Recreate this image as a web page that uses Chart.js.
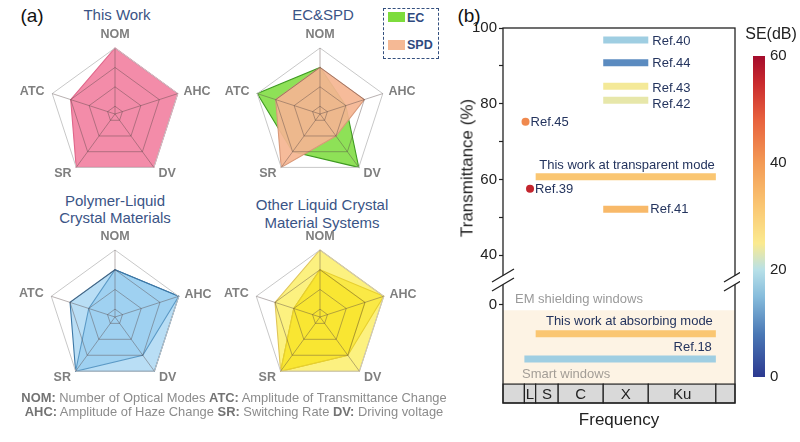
<!DOCTYPE html>
<html>
<head>
<meta charset="utf-8">
<title>Radar comparison and SE map</title>
<script src="https://cdn.jsdelivr.net/npm/chart.js@4.4.1/dist/chart.umd.min.js"></script>
<style>
  html, body { margin: 0; padding: 0; background: #fff; }
  body { position: relative; width: 800px; height: 442px; overflow: hidden;
         font-family: "Liberation Sans", Arial, Helvetica, sans-serif; }
  canvas { position: absolute; }
  .t { position: absolute; white-space: nowrap; line-height: 1; transform: translate(-50%, -50%); }
  .tag { font-size: 19px; color: #111; }
  .title { font-size: 15px; color: #3a5486; }
  .foot { font-size: 12.9px; color: #8c8c8c; }
  .foot b { color: #737373; }
  .axis { font-size: 17px; color: #222; }
  .rot { transform: translate(-50%, -50%) rotate(-90deg); }
  #legendBox { position: absolute; left: 383px; top: 8px; width: 56px; height: 51px;
               box-sizing: border-box; border: 1.5px dashed #34507f; }
  .sw { position: absolute; left: 4px; width: 17px; height: 10px; }
  .lg { position: absolute; left: 23px; font-size: 12.5px; font-weight: bold; color: #2f4a80; line-height: 1; }
</style>
</head>
<body>

<div class="t tag" style="left:32px; top:15px;">(a)</div>
<div class="t tag" style="left:469px; top:15px;">(b)</div>

<div class="t title" style="left:117px; top:14px;">This Work</div>
<div class="t title" style="left:323px; top:14px;">EC&amp;SPD</div>
<div class="t title" style="left:115px; top:200px;">Polymer-Liquid</div>
<div class="t title" style="left:115px; top:217px;">Crystal Materials</div>
<div class="t title" style="left:322px; top:204px;">Other Liquid Crystal</div>
<div class="t title" style="left:322px; top:222px;">Material Systems</div>

<div id="legendBox">
  <div class="sw" style="top:3px; background:#7ddc3c;"></div>
  <div class="lg" style="top:3px;">EC</div>
  <div class="sw" style="top:31px; background:#f5b995;"></div>
  <div class="lg" style="top:30px;">SPD</div>
</div>

<canvas id="rThis" width="200" height="175" style="left:15px; top:24px;"></canvas>
<canvas id="rEc" width="200" height="175" style="left:220px; top:24px;"></canvas>
<canvas id="rPlc" width="200" height="175" style="left:15px; top:227px;"></canvas>
<canvas id="rLc" width="200" height="175" style="left:220px; top:227px;"></canvas>

<div class="t foot" style="left:234px; top:398px;"><b>NOM:</b> Number of Optical Modes <b>ATC:</b> Amplitude of Transmittance Change</div>
<div class="t foot" style="left:234px; top:412px;"><b>AHC:</b> Amplitude of Haze Change <b>SR:</b> Switching Rate <b>DV:</b> Driving voltage</div>

<canvas id="seMap" width="300" height="442" style="left:440px; top:0px;"></canvas>
<canvas id="seBar" width="55" height="350" style="left:745px; top:40px;"></canvas>

<div class="t axis rot" style="left:467px; top:168px;">Transmittance (%)</div>
<div class="t axis" style="left:619px; top:419px;">Frequency</div>
<div class="t" style="left:771px; top:34px; font-size:16px; color:#222;">SE(dB)</div>

<script>
// ---- panel (a): radar scores, order NOM, AHC, DV, SR, ATC ----
const axesNames = ['NOM', 'AHC', 'DV', 'SR', 'ATC'];
const ringLevels = [2, 3, 4, 5];
const thisWork = [5, 5, 5, 5, 4];
const ecScore = [4, 3, 5, 4, 5];
const spdScore = [4, 4, 3, 5, 4];
const plcHigh = [4, 5, 5, 5, 4];
const plcLow = [4, 5, 4, 5, 3];
const lcOuter = [5, 5, 5, 5, 4];
const lcMid = [4, 5, 4, 5, 3];
const lcInner = [4, 4, 4, 5, 3];

// ---- panel (b): transmittance vs frequency band ----
const bandNames = ['', 'L', 'S', 'C', 'X', 'Ku', ''];
const bandEdges = [-0.9, 1, 2, 4, 8, 12, 18, 19.7];   // GHz
const yTicks = [0, 40, 50, 60, 70, 80, 90, 100];
const yTickText = ['0', '40', '', '60', '', '80', '', '100'];
const refNames = ['Ref.40', 'Ref.44', 'Ref.43', 'Ref.42', 'This work at transparent mode',
                  'Ref.41', 'This work at absorbing mode', 'Ref.18'];
const refFrom = [8, 8, 8, 8, 2, 8, 2, 1];
const refTo = [12, 12, 12, 12, 18, 12, 18, 18];
const refT = [96.8, 90.8, 84.6, 80.9, 60.7, 52.1, -7.7, -14.4];
const refSE = [17.5, 10, 24.5, 23.5, 32, 34.4, 32, 17.5];
const dotNames = ['Ref.45', 'Ref.39'];
const dotFreq = [1.1, 1.5];
const dotT = [75.2, 57.5];
const dotSE = [42.4, 55.8];
const seTicks = [0, 20, 40, 60];

// axis break: values below 40 are shifted up so 0 sits just under the break
const BREAK_ZERO = 26.9;
const toAxis = t => (t >= 40 ? t : BREAK_ZERO + t);
const zoneTop = -1.5, bandTop = -21, axisBottom = -26;

// colour map for SE (dB)
const seStops = [0, 8, 15, 20, 25, 32, 40, 48, 55, 60];
const seHex = ['#2c3990', '#4a78b5', '#86bcdc', '#b7e0e8', '#fbea8f',
               '#fac672', '#f39a55', '#e8623e', '#c92a2e', '#a40c2c'];

function hexRgb(h) {
  return [1, 3, 5].map(i => parseInt(h.slice(i, i + 2), 16));
}
function seColor(v) {
  let i = 0;
  while (i < seStops.length - 2 && v > seStops[i + 1]) i++;
  const t = (v - seStops[i]) / (seStops[i + 1] - seStops[i]);
  const a = hexRgb(seHex[i]), b = hexRgb(seHex[i + 1]);
  const c = a.map((x, k) => Math.round(x + (b[k] - x) * t));
  return `rgb(${c[0]},${c[1]},${c[2]})`;
}

Chart.defaults.font.family = '"Liberation Sans", Arial, sans-serif';

// ---------- radar charts ----------
const labelGap = [13, 6, 8, 8, 8];
const labelAlign = ['center', 'left', 'left', 'right', 'right'];

const axisLabels = {
  id: 'axisLabels',
  afterDraw(chart) {
    const s = chart.scales.r, ctx = chart.ctx;
    ctx.save();
    ctx.font = 'bold 12.5px "Liberation Sans", Arial, sans-serif';
    ctx.fillStyle = '#7f7f7f';
    ctx.textBaseline = 'middle';
    axesNames.forEach((name, i) => {
      const p = s.getPointPosition(i, s.drawingArea + labelGap[i]);
      ctx.textAlign = labelAlign[i];
      ctx.fillText(name, p.x, p.y);
    });
    ctx.restore();
  }
};

function radar(id, R, sets) {
  new Chart(document.getElementById(id), {
    type: 'radar',
    data: {
      labels: axesNames,
      datasets: sets.map(s => ({
        data: s.data,
        backgroundColor: s.fill,
        borderColor: s.line,
        borderWidth: 1.1,
        order: s.order || 0
      }))
    },
    options: {
      responsive: false,
      animation: false,
      layout: { padding: { left: 100 - R, right: 100 - R, top: 90 - R, bottom: 85 - R } },
      plugins: { legend: { display: false }, tooltip: { enabled: false } },
      elements: { point: { radius: 0 }, line: { tension: 0 } },
      scales: {
        r: {
          min: 1.6,
          max: 5,
          afterBuildTicks: s => { s.ticks = [1.6, ...ringLevels].map(v => ({ value: v })); },
          ticks: { display: false },
          pointLabels: { display: false },
          grid: {
            z: 1,
            color: c => (c.tick && c.tick.value === 5 ? '#c8c8c8' : 'rgba(85,70,70,0.42)'),
            lineWidth: 1
          },
          angleLines: { color: 'rgba(85,70,70,0.42)' }
        }
      }
    },
    plugins: [axisLabels]
  });
}

radar('rThis', 66, [{ data: thisWork, fill: '#f38ca9', line: '#e0668a' }]);
radar('rEc', 66, [
  { data: spdScore, fill: 'rgba(245,182,146,0.93)', line: '#d9997a', order: 0 },
  { data: ecScore, fill: 'rgba(122,220,58,0.85)', line: '#3f9a22', order: 1 }
]);
radar('rPlc', 67, [
  { data: plcHigh, fill: 'rgba(128,194,236,0.55)', line: '#3d78a6' },
  { data: plcLow, fill: 'rgba(128,194,236,0.45)', line: '#2f6796' }
]);
radar('rLc', 67, [
  { data: lcOuter, fill: 'rgba(250,232,50,0.62)', line: '#e0c55a' },
  { data: lcMid, fill: 'rgba(246,222,0,0.6)', line: '#c9a82a' },
  { data: lcInner, fill: 'rgba(240,214,0,0.5)', line: '#a88a22' }
]);

// ---------- panel (b) ----------
const refNote = [
  { align: 'left', dx: 4, dy: 1 },
  { align: 'left', dx: 4, dy: 0.5 },
  { align: 'left', dx: 4, dy: 2 },
  { align: 'left', dx: 4, dy: 4 },
  { align: 'right', dx: -1, dy: -11 },
  { align: 'left', dx: 2, dy: 0 },
  { align: 'right', dx: -3, dy: -12.5 },
  { align: 'right', dx: -4, dy: -12 }
];
const dotNote = { dx: 5, dy: 1 };

const mapDecor = {
  id: 'mapDecor',
  beforeDatasetsDraw(chart) {
    const { ctx, chartArea: a, scales: { x, y } } = chart;
    ctx.save();
    const zTop = y.getPixelForValue(toAxis(zoneTop));
    const zBot = y.getPixelForValue(toAxis(bandTop));
    ctx.fillStyle = '#fdf3e4';
    ctx.fillRect(a.left, zTop, a.right - a.left, zBot - zTop);

    ctx.font = '15px "Liberation Sans", Arial, sans-serif';
    ctx.textAlign = 'center';
    ctx.textBaseline = 'middle';
    ctx.lineWidth = 1.2;
    ctx.strokeStyle = '#222';
    bandNames.forEach((n, i) => {
      const x0 = x.getPixelForValue(bandEdges[i]);
      const x1 = x.getPixelForValue(bandEdges[i + 1]);
      ctx.fillStyle = '#d9d9d9';
      ctx.fillRect(x0, zBot, x1 - x0, a.bottom - zBot);
      ctx.strokeRect(x0, zBot, x1 - x0, a.bottom - zBot);
      ctx.fillStyle = '#222';
      ctx.fillText(n, (x0 + x1) / 2, (zBot + a.bottom) / 2 + 1);
    });

    ctx.font = '13px "Liberation Sans", Arial, sans-serif';
    ctx.textAlign = 'left';
    ctx.fillStyle = '#9a9a9a';
    ctx.fillText('EM shielding windows', a.left + 12, y.getPixelForValue(toAxis(1.5)));
    ctx.fillStyle = '#a39d96';
    ctx.fillText('Smart windows', a.left + 19, y.getPixelForValue(toAxis(-18.4)));
    ctx.restore();
  },
  afterDatasetsDraw(chart) {
    const { ctx, scales: { x, y } } = chart;
    ctx.save();
    ctx.font = '13px "Liberation Sans", Arial, sans-serif';
    ctx.fillStyle = '#24345e';
    ctx.textBaseline = 'middle';
    refNames.forEach((n, i) => {
      const nt = refNote[i];
      const xe = x.getPixelForValue(refTo[i]);
      ctx.textAlign = nt.align;
      ctx.fillText(n, xe + nt.dx, y.getPixelForValue(toAxis(refT[i])) + nt.dy);
    });
    ctx.textAlign = 'left';
    dotNames.forEach((n, i) => {
      ctx.fillText(n, x.getPixelForValue(dotFreq[i]) + dotNote.dx,
                   y.getPixelForValue(toAxis(dotT[i])) + dotNote.dy);
    });
    ctx.restore();
  },
  afterDraw(chart) {
    const { ctx, chartArea: a, scales: { y } } = chart;
    ctx.save();
    ctx.strokeStyle = '#222';
    ctx.lineWidth = 1.3;
    ctx.strokeRect(a.left, a.top, a.right - a.left, a.bottom - a.top);
    // axis break marks
    const yc = y.getPixelForValue(33.4);
    [a.left, a.right].forEach(xc => {
      ctx.fillStyle = '#fff';
      ctx.beginPath();
      ctx.moveTo(xc - 11, yc + 2);
      ctx.lineTo(xc + 11, yc - 11);
      ctx.lineTo(xc + 11, yc - 2);
      ctx.lineTo(xc - 11, yc + 11);
      ctx.closePath();
      ctx.fill();
      ctx.beginPath();
      ctx.moveTo(xc - 11, yc + 2);
      ctx.lineTo(xc + 11, yc - 11);
      ctx.moveTo(xc - 11, yc + 11);
      ctx.lineTo(xc + 11, yc - 2);
      ctx.stroke();
    });
    ctx.restore();
  }
};

const segments = refNames.map((n, i) => ({
  type: 'line',
  data: [{ x: refFrom[i], y: toAxis(refT[i]) }, { x: refTo[i], y: toAxis(refT[i]) }],
  borderColor: seColor(refSE[i]),
  borderWidth: 7,
  borderCapStyle: 'butt',
  pointRadius: 0,
  fill: false
}));
const dots = {
  type: 'scatter',
  data: dotFreq.map((f, i) => ({ x: f, y: toAxis(dotT[i]) })),
  backgroundColor: dotSE.map(seColor),
  pointRadius: 4,
  borderWidth: 0
};

new Chart(document.getElementById('seMap'), {
  type: 'line',
  data: { datasets: [...segments, dots] },
  options: {
    responsive: false,
    animation: false,
    layout: { padding: { left: 0, right: 5, top: 28, bottom: 39 }, autoPadding: false },
    plugins: { legend: { display: false }, tooltip: { enabled: false } },
    scales: {
      x: { type: 'linear', min: bandEdges[0], max: bandEdges[bandEdges.length - 1], display: false },
      y: {
        type: 'linear',
        min: toAxis(axisBottom),
        max: 100,
        afterBuildTicks: s => { s.ticks = yTicks.map(v => ({ value: toAxis(v) })); },
        afterFit: s => { s.width = 63; s.paddingTop = 0; s.paddingBottom = 0; },
        ticks: {
          autoSkip: false,
          padding: 2,
          color: '#222',
          font: { size: 15 },
          callback: (v, i) => yTickText[i]
        },
        grid: { drawOnChartArea: false, tickLength: 4, tickColor: '#222', tickWidth: 1.2 },
        border: { display: false }
      }
    }
  },
  plugins: [mapDecor]
});

// ---------- colour bar ----------
const barFill = {
  id: 'barFill',
  beforeDraw(chart) {
    const { ctx, chartArea: a, scales: { y } } = chart;
    const g = ctx.createLinearGradient(0, y.getPixelForValue(0), 0, y.getPixelForValue(60));
    seStops.forEach((v, i) => g.addColorStop(v / 60, seHex[i]));
    ctx.save();
    ctx.fillStyle = g;
    ctx.fillRect(a.left, a.top, a.right - a.left, a.bottom - a.top);
    ctx.restore();
  }
};

new Chart(document.getElementById('seBar'), {
  type: 'scatter',
  data: { datasets: [] },
  options: {
    responsive: false,
    animation: false,
    layout: { padding: { left: 8, right: 0, top: 16, bottom: 13 }, autoPadding: false },
    plugins: { legend: { display: false }, tooltip: { enabled: false } },
    scales: {
      x: { type: 'linear', display: false },
      y: {
        position: 'right',
        min: 0,
        max: 60,
        afterBuildTicks: s => { s.ticks = seTicks.map(v => ({ value: v })); },
        afterFit: s => { s.width = 35; s.paddingTop = 0; s.paddingBottom = 0; },
        ticks: { padding: 5, color: '#222', font: { size: 15 } },
        grid: { display: false, drawTicks: false },
        border: { display: false }
      }
    }
  },
  plugins: [barFill]
});
</script>
</body>
</html>
